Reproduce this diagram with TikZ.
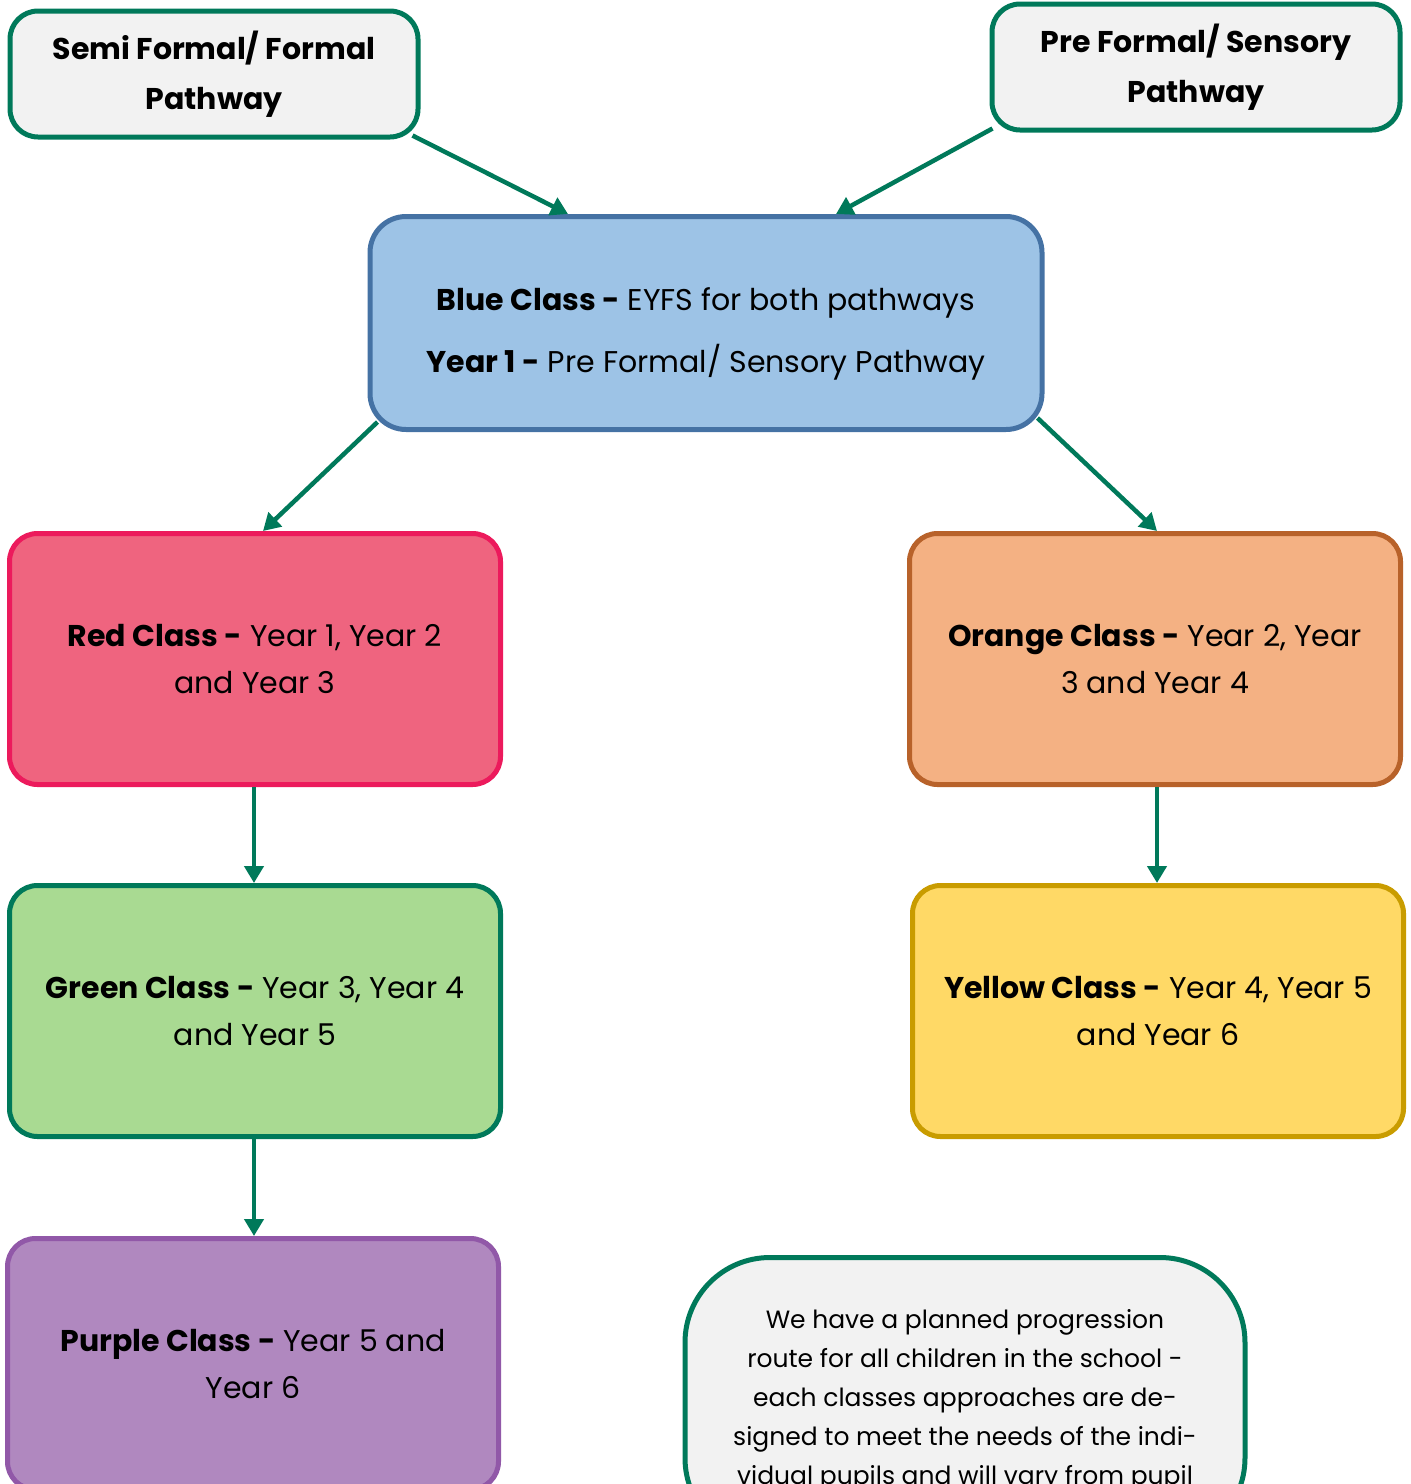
\documentclass[tikz,border=0pt]{standalone}
\usepackage{fontspec}
\setmainfont{Poppins}
\usepackage{tikz}
\usetikzlibrary{arrows.meta}
\definecolor{pathgreen}{HTML}{00795A}
\definecolor{paleback}{HTML}{F2F2F2}
\definecolor{bluefill}{HTML}{9DC3E6}
\definecolor{blueline}{HTML}{4572A4}
\definecolor{redfill}{HTML}{EF647F}
\definecolor{redline}{HTML}{EC1A5C}
\definecolor{orangefill}{HTML}{F4B183}
\definecolor{orangeline}{HTML}{B8622A}
\definecolor{greenfill}{HTML}{A9DA92}
\definecolor{yellowfill}{HTML}{FFD966}
\definecolor{yellowline}{HTML}{C99C00}
\definecolor{purplefill}{HTML}{B088BF}
\definecolor{purpleline}{HTML}{9158A8}
\tikzset{
  box/.style = {align=center, inner sep=0pt, rounded corners=28pt,
    line width=5pt, font=\fontsize{30}{47}\selectfont},
  path_box/.style = {box, draw=pathgreen, fill=paleback,
    minimum width=408pt, minimum height=126pt,
    font=\fontsize{30}{50}\selectfont\bfseries},% pathway boxes
  class_box/.style = {box, minimum width=491pt, minimum height=251pt},% class boxes
  note_box/.style = {box, draw=pathgreen, fill=paleback, rounded corners=85pt,
    minimum width=560pt, inner ysep=52pt,
    font=\fontsize{25}{39}\selectfont},% note at the bottom
  flow/.style = {draw=pathgreen, line width=4.5pt,
    -{Triangle[length=17pt,width=19pt]}}
}

\begin{document}
\begin{tikzpicture}[x=1pt,y=-1pt]
\useasboundingbox (0,0) rectangle (1411,1484);
\clip (0,0) rectangle (1411,1484);
% pathways
\node [path_box] (semi) at (214,74) {Semi Formal/ Formal\\Pathway};
\node [path_box] (pre) at (1196,67) {Pre Formal/ Sensory\\Pathway};
% early years
\node [box, draw=blueline, fill=bluefill, minimum width=672pt,
  minimum height=213pt, rounded corners=36pt,
  font=\fontsize{30}{62}\selectfont] (blue) at (706,323)
  {\rule{0pt}{44pt}\textbf{Blue Class -} EYFS for both pathways\\
   \textbf{Year 1 -} Pre Formal/ Sensory Pathway};
% left route
\node [class_box, draw=redline, fill=redfill] (red) at (255,659)
  {\textbf{Red Class -} Year 1, Year 2\\and Year 3};
\node [class_box, draw=pathgreen, fill=greenfill] (green) at (255,1011)
  {\textbf{Green Class -} Year 3, Year 4\\and Year 5};
\node [class_box, draw=purpleline, fill=purplefill] (purple) at (253,1364)
  {\textbf{Purple Class -} Year 5 and\\Year 6};
% right route
\node [class_box, draw=orangeline, fill=orangefill] (orange) at (1155,659)
  {\textbf{Orange Class -} Year 2, Year\\3 and Year 4};
\node [class_box, draw=yellowline, fill=yellowfill] (yellow) at (1158,1011)
  {\textbf{Yellow Class -} Year 4, Year 5\\and Year 6};
% note
\node [note_box, anchor=north] (note) at (965,1255)
  {We have a planned progression\\
   route for all children in the school -\\
   each classes approaches are de-\\
   signed to meet the needs of the indi-\\
   vidual pupils and will vary from pupil};
% arrows
\draw [flow] ([xshift=-8pt,yshift=4pt]semi.south east) -- ([xshift=-138pt]blue.north);
\draw [flow] ([xshift=3pt,yshift=4pt]pre.south west) -- ([xshift=130pt]blue.north);
\draw [flow] ([xshift=10pt,yshift=10pt]blue.south west) -- ([xshift=8pt]red.north);
\draw [flow] ([xshift=-7pt,yshift=14pt]blue.south east) -- ([xshift=2pt]orange.north);
\draw [flow] ([xshift=-1pt]red.south) -- ([xshift=-1pt]green.north);
\draw [flow] ([xshift=2pt]orange.south) -- ([xshift=-1pt]yellow.north);
\draw [flow] ([xshift=-1pt]green.south) -- ([xshift=1pt]purple.north);
\end{tikzpicture}
\end{document}
